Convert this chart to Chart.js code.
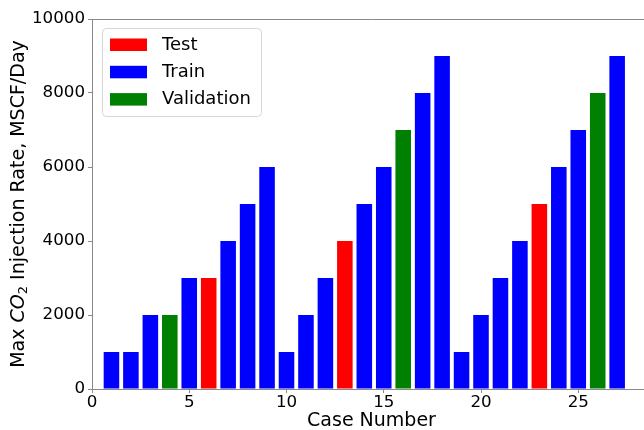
<!DOCTYPE html>
<html>
<head>
<meta charset="utf-8">
<script src="https://cdn.jsdelivr.net/npm/chart.js@4/dist/chart.umd.min.js"></script>
<style>
  html, body { margin: 0; padding: 0; background: #fff; overflow: hidden; }
  #wrap { width: 660px; height: 430px; }
</style>
</head>
<body>
<div id="wrap"><canvas id="c" width="660" height="430"></canvas></div>
<script>
// Case data: one injection rate and one data-split label per case
const caseNumbers = [1, 2, 3, 4, 5, 6, 7, 8, 9, 10, 11, 12, 13, 14, 15, 16, 17, 18, 19, 20, 21, 22, 23, 24, 25, 26, 27];
const injectionRates = [1000, 1000, 2000, 2000, 3000, 3000, 4000, 5000, 6000,
                        1000, 2000, 3000, 4000, 5000, 6000, 7000, 8000, 9000,
                        1000, 2000, 3000, 4000, 5000, 6000, 7000, 8000, 9000];
const caseSplit = ['Train', 'Train', 'Train', 'Validation', 'Train', 'Test', 'Train', 'Train', 'Train',
                   'Train', 'Train', 'Train', 'Test', 'Train', 'Train', 'Validation', 'Train', 'Train',
                   'Train', 'Train', 'Train', 'Train', 'Test', 'Train', 'Train', 'Validation', 'Train'];
const splitNames = ['Test', 'Train', 'Validation'];
const splitColors = ['#ff0000', '#0000ff', '#008000'];
const xTickValues = [0, 5, 10, 15, 20, 25];
const yTickValues = [0, 2000, 4000, 6000, 8000, 10000];

const FONT = 'DejaVu Sans';
const AXIS_GRAY = '#8a8a8a';
const TICK_SIZE = 16.7;
const LABEL_SIZE = 19;
const LEGEND_SIZE = 18;
Chart.defaults.font.family = FONT;
Chart.defaults.color = '#000';

const datasets = splitNames.map((name, i) => ({
  label: name,
  backgroundColor: splitColors[i],
  borderWidth: 0,
  grouped: false,
  barPercentage: 0.8,
  categoryPercentage: 1.0,
  data: caseNumbers
    .map((c, k) => ({ x: c, y: injectionRates[k], split: caseSplit[k] }))
    .filter(p => p.split === name)
    .map(p => ({ x: p.x, y: p.y }))
}));

// Top spine of the axes box
const topSpine = {
  id: 'topSpine',
  afterDraw(chart) {
    const { ctx, chartArea } = chart;
    ctx.save();
    ctx.strokeStyle = AXIS_GRAY;
    ctx.lineWidth = 1;
    ctx.beginPath();
    ctx.moveTo(chartArea.left, chartArea.top + 0.5);
    ctx.lineTo(chartArea.right, chartArea.top + 0.5);
    ctx.stroke();
    ctx.restore();
  }
};

// Y-axis title with italic CO and subscript 2
const yTitle = {
  id: 'yTitle',
  afterDraw(chart) {
    const { ctx, chartArea } = chart;
    const parts = [
      { t: 'Max ', f: `${LABEL_SIZE}px "${FONT}"`, dy: 0 },
      { t: 'CO', f: `oblique ${LABEL_SIZE}px "${FONT}"`, dy: 0 },
      { t: '2', f: `${Math.round(LABEL_SIZE * 0.68)}px "${FONT}"`, dy: 5 },
      { t: ' Injection Rate, MSCF/Day', f: `${LABEL_SIZE}px "${FONT}"`, dy: 0 }
    ];
    ctx.save();
    let total = 0;
    parts.forEach(p => { ctx.font = p.f; p.w = ctx.measureText(p.t).width; total += p.w; });
    ctx.translate(19, (chartArea.top + chartArea.bottom) / 2);
    ctx.rotate(-Math.PI / 2);
    ctx.fillStyle = '#000';
    ctx.textBaseline = 'middle';
    ctx.textAlign = 'left';
    let x = -total / 2;
    parts.forEach(p => { ctx.font = p.f; ctx.fillText(p.t, x, p.dy); x += p.w; });
    ctx.restore();
  }
};

// Legend drawn inside the axes, upper left
const innerLegend = {
  id: 'innerLegend',
  afterDraw(chart) {
    const { ctx, chartArea } = chart;
    const bx = chartArea.left + 10.5, by = chartArea.top + 9.5;
    const bw = 159, bh = 88;
    ctx.save();
    ctx.beginPath();
    ctx.roundRect(bx, by, bw, bh, 4);
    ctx.fillStyle = 'rgba(255,255,255,0.8)';
    ctx.fill();
    ctx.strokeStyle = '#d6d6d6';
    ctx.lineWidth = 1;
    ctx.stroke();
    ctx.font = `${LEGEND_SIZE}px "${FONT}"`;
    ctx.textBaseline = 'middle';
    ctx.textAlign = 'left';
    chart.data.datasets.forEach((ds, i) => {
      const cy = by + 16 + i * 27.3;
      ctx.fillStyle = ds.backgroundColor;
      ctx.fillRect(bx + 7.5, cy - 6, 37, 12.5);
      ctx.fillStyle = '#000';
      ctx.fillText(ds.label, bx + 59.5, cy + 0.5);
    });
    ctx.restore();
  }
};

new Chart(document.getElementById('c'), {
  type: 'bar',
  data: { datasets },
  options: {
    responsive: false,
    animation: false,
    layout: { padding: { left: 0, top: 19, right: 9, bottom: 0 } },
    plugins: { legend: { display: false }, tooltip: { enabled: false } },
    scales: {
      x: {
        type: 'linear',
        offset: false,
        min: 0,
        max: 28.74,
        afterBuildTicks: s => { s.ticks = xTickValues.map(v => ({ value: v })); },
        afterFit: s => { s.height = 41; },
        ticks: { font: { size: TICK_SIZE }, color: '#000', padding: 0, maxRotation: 0 },
        grid: { display: true, offset: false, drawOnChartArea: false, drawTicks: true, tickLength: 4, color: AXIS_GRAY },
        border: { display: true, color: AXIS_GRAY, width: 1 },
        title: { display: true, text: 'Case Number', font: { size: LABEL_SIZE }, color: '#000', padding: { top: 0, bottom: -2 } }
      },
      y: {
        type: 'linear',
        min: 0,
        max: 10000,
        afterBuildTicks: s => { s.ticks = yTickValues.map(v => ({ value: v })); },
        afterFit: s => { s.width = 92; },
        ticks: { font: { size: TICK_SIZE }, color: '#000', padding: 3, callback: v => String(v) },
        grid: { display: true, drawOnChartArea: false, drawTicks: true, tickLength: 4, color: AXIS_GRAY },
        border: { display: true, color: AXIS_GRAY, width: 1 }
      }
    }
  },
  plugins: [topSpine, yTitle, innerLegend]
});
</script>
</body>
</html>
